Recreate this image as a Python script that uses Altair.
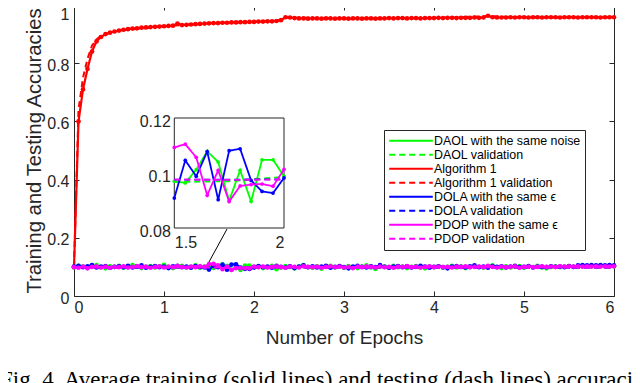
import altair as alt
import pandas as pd

# ---------------- data ----------------
series_names = [
    "DAOL with the same noise", "DAOL validation",
    "Algorithm 1", "Algorithm 1 validation",
    "DOLA with the same ϵ", "DOLA validation",
    "PDOP with the same ϵ", "PDOP validation",
]
series_colors = ["#00FF00", "#00FF00", "#FF0000", "#FF0000",
                 "#0000FF", "#0000FF", "#FF00FF", "#FF00FF"]
series_dash = [[1, 0], [6, 4], [1, 0], [6, 4], [1, 0], [6, 4], [1, 0], [6, 4]]

epochs = [round(i * 0.05, 2) for i in range(121)]

algorithm1 = [
    0.100, 0.600, 0.710, 0.780, 0.840, 0.875, 0.890, 0.900, 0.905, 0.909,
    0.912, 0.915, 0.917, 0.919, 0.920, 0.922, 0.923, 0.924, 0.925, 0.926,
    0.927, 0.928, 0.929, 0.936, 0.931, 0.932, 0.933, 0.934, 0.935, 0.936,
    0.937, 0.938, 0.938, 0.939, 0.939, 0.940, 0.940, 0.941, 0.941, 0.942,
    0.942, 0.943, 0.943, 0.944, 0.944, 0.945, 0.948, 0.958, 0.957, 0.955,
    0.954, 0.954, 0.953, 0.954, 0.954, 0.953, 0.954, 0.954, 0.953, 0.954,
    0.954, 0.953, 0.954, 0.954, 0.953, 0.954, 0.954, 0.953, 0.954, 0.954,
    0.955, 0.954, 0.955, 0.955, 0.954, 0.955, 0.955, 0.954, 0.955, 0.955,
    0.955, 0.956, 0.955, 0.956, 0.956, 0.955, 0.956, 0.956, 0.956, 0.957,
    0.956, 0.957, 0.963, 0.958, 0.957, 0.957, 0.957, 0.958, 0.957, 0.958,
    0.958, 0.957, 0.958, 0.958, 0.957, 0.958, 0.958, 0.958, 0.957, 0.958,
    0.958, 0.958, 0.957, 0.958, 0.958, 0.958, 0.958, 0.957, 0.958, 0.958, 0.958,
]

alg1_val_x = [0, 0.05, 0.1, 0.15, 0.2, 0.25, 0.3, 0.4, 0.5, 1.0, 1.5, 2.0,
              2.25, 2.35, 3.0, 4.0, 4.6, 5.0, 6.0]
alg1_val_y = [0.100, 0.640, 0.750, 0.815, 0.860, 0.882, 0.895, 0.905, 0.912,
              0.927, 0.937, 0.942, 0.945, 0.957, 0.954, 0.955, 0.962, 0.957, 0.958]

daol = [
    0.098, 0.104, 0.101, 0.097, 0.103, 0.106, 0.099, 0.095, 0.102, 0.100,
    0.104, 0.097, 0.099, 0.106, 0.101, 0.096, 0.100, 0.103, 0.098, 0.102,
    0.107, 0.099, 0.096, 0.101, 0.104, 0.098, 0.100, 0.105, 0.097, 0.101,
    0.0970, 0.0964, 0.1012, 0.1079, 0.1040, 0.0899, 0.1010, 0.0897, 0.1048, 0.1048, 0.0988,
    0.102, 0.096, 0.099, 0.104, 0.092, 0.098, 0.103, 0.100, 0.095, 0.101,
    0.106, 0.099, 0.097, 0.102, 0.094, 0.100, 0.104, 0.098, 0.101, 0.097,
    0.103, 0.099, 0.096, 0.101, 0.105, 0.098, 0.093, 0.100, 0.102, 0.097,
    0.104, 0.099, 0.101, 0.096, 0.100, 0.103, 0.098, 0.095, 0.101, 0.099,
    0.102, 0.097, 0.100, 0.104, 0.098, 0.101, 0.096, 0.099, 0.103, 0.100,
    0.097, 0.101, 0.105, 0.099, 0.096, 0.102, 0.098, 0.100, 0.103, 0.097,
    0.101, 0.099, 0.104, 0.098, 0.095, 0.100, 0.102, 0.099, 0.101, 0.103,
    0.100, 0.102, 0.101, 0.103, 0.102, 0.101, 0.103, 0.102, 0.101, 0.102,
]

dola = [
    0.101, 0.104, 0.099, 0.102, 0.106, 0.098, 0.101, 0.103, 0.097, 0.100,
    0.102, 0.099, 0.104, 0.098, 0.101, 0.105, 0.097, 0.100, 0.103, 0.099,
    0.101, 0.096, 0.102, 0.104, 0.099, 0.101, 0.097, 0.103, 0.100, 0.098,
    0.0909, 0.1046, 0.0988, 0.1078, 0.0903, 0.1081, 0.1088, 0.0973, 0.0933, 0.0927, 0.0982,
    0.103, 0.099, 0.101, 0.097, 0.104, 0.100, 0.098, 0.102, 0.096, 0.101,
    0.105, 0.099, 0.102, 0.098, 0.101, 0.104, 0.097, 0.100, 0.103, 0.099,
    0.095, 0.101, 0.104, 0.100, 0.098, 0.102, 0.099, 0.106, 0.100, 0.097,
    0.101, 0.103, 0.099, 0.102, 0.098, 0.100, 0.104, 0.101, 0.097, 0.100,
    0.102, 0.099, 0.095, 0.101, 0.103, 0.100, 0.098, 0.102, 0.105, 0.099,
    0.101, 0.097, 0.103, 0.100, 0.102, 0.098, 0.101, 0.104, 0.099, 0.100,
    0.103, 0.098, 0.101, 0.100, 0.099, 0.102, 0.100, 0.101, 0.099, 0.103,
    0.100, 0.105, 0.106, 0.105, 0.106, 0.105, 0.106, 0.105, 0.106, 0.105,
]

pdop = [
    0.099, 0.097, 0.101, 0.095, 0.100, 0.102, 0.098, 0.101, 0.097, 0.100,
    0.099, 0.102, 0.098, 0.100, 0.103, 0.099, 0.101, 0.097, 0.100, 0.102,
    0.098, 0.101, 0.099, 0.103, 0.100, 0.098, 0.101, 0.099, 0.102, 0.100,
    0.1093, 0.1105, 0.1057, 0.0919, 0.1010, 0.0896, 0.0953, 0.0958, 0.0960, 0.0952, 0.1013,
    0.099, 0.101, 0.098, 0.100, 0.102, 0.099, 0.097, 0.101, 0.100, 0.098,
    0.102, 0.100, 0.099, 0.101, 0.097, 0.100, 0.102, 0.099, 0.101, 0.098,
    0.100, 0.096, 0.101, 0.099, 0.102, 0.100, 0.098, 0.101, 0.099, 0.100,
    0.097, 0.101, 0.100, 0.103, 0.099, 0.101, 0.098, 0.100, 0.102, 0.099,
    0.101, 0.099, 0.100, 0.098, 0.101, 0.100, 0.102, 0.099, 0.100, 0.101,
    0.099, 0.104, 0.100, 0.098, 0.101, 0.099, 0.100, 0.102, 0.097, 0.100,
    0.101, 0.099, 0.100, 0.102, 0.100, 0.101, 0.100, 0.102, 0.101, 0.102,
    0.101, 0.102, 0.101, 0.102, 0.101, 0.102, 0.101, 0.102, 0.101, 0.102,
]

val_x = [0, 0.25, 0.5, 0.75, 1.0, 1.25, 1.5, 1.75, 2.0, 2.25, 2.5, 2.75, 3.0,
         3.25, 3.5, 3.75, 4.0, 4.25, 4.5, 4.75, 5.0, 5.25, 5.5, 5.75, 6.0]
daol_val = [0.0968, 0.0967, 0.0968, 0.0967, 0.0967, 0.0968, 0.0967, 0.0970, 0.0986,
            0.0975, 0.0970, 0.0968, 0.0969, 0.0968, 0.0969, 0.0968, 0.0969, 0.0968,
            0.0969, 0.0968, 0.0969, 0.0968, 0.0969, 0.0968, 0.0969]
dola_val = [0.0976, 0.0976, 0.0977, 0.0976, 0.0976, 0.0977, 0.0976, 0.0976, 0.0977,
            0.0976, 0.0976, 0.0977, 0.0976, 0.0976, 0.0977, 0.0976, 0.0976, 0.0977,
            0.0976, 0.0976, 0.0977, 0.0976, 0.0976, 0.0977, 0.0976]
pdop_val = [0.0975, 0.0976, 0.0975, 0.0976, 0.0975, 0.0976, 0.0976, 0.0975, 0.0976,
            0.0975, 0.0976, 0.0975, 0.0976, 0.0975, 0.0976, 0.0975, 0.0976, 0.0975,
            0.0976, 0.0975, 0.0976, 0.0975, 0.0976, 0.0975, 0.0976]

x_ticks = [0, 1, 2, 3, 4, 5, 6]
y_ticks = [0, 0.2, 0.4, 0.6, 0.8, 1]
inset_x_ticks = [1.5, 2]
inset_y_ticks = [0.08, 0.1, 0.12]
inset_x_domain = [1.5, 2]
inset_y_domain = [0.08, 0.12]

arrow_x = [1.50, 1.70]
arrow_y = [0.117, 0.230]

caption = "Fig. 4.   Average training (solid lines) and testing (dash lines) accuracies"

# ---------------- tables ----------------
rows = []
def add(name, xs, ys):
    for a, b in zip(xs, ys):
        rows.append({"series": name, "x": a, "y": b})

add(series_names[0], epochs, daol)
add(series_names[1], val_x, daol_val)
add(series_names[2], epochs, algorithm1)
add(series_names[3], alg1_val_x, alg1_val_y)
add(series_names[4], epochs, dola)
add(series_names[5], val_x, dola_val)
add(series_names[6], epochs, pdop)
add(series_names[7], val_x, pdop_val)
df = pd.DataFrame(rows)
df_inset = df[(df["x"] >= 1.5) & (df["x"] <= 2.0) & (df["series"] != series_names[2])
              & (df["series"] != series_names[3])]

W, H = 540, 291
FONT = "Liberation Sans"
AX = "#262626"

# inset box, in pixels of the plot area
IX0, IX1, IY0, IY1 = 100.3, 210, 223, 113

x_scale = alt.Scale(domain=[0, 6], nice=False, zero=False)
y_scale = alt.Scale(domain=[0, 1], nice=False, zero=False)
ix_scale = alt.Scale(domain=inset_x_domain, range=[IX0, IX1], nice=False, zero=False)
iy_scale = alt.Scale(domain=inset_y_domain, range=[IY0, IY1], nice=False, zero=False)

legend = alt.Legend(
    title=None, orient="none", legendX=310, legendY=125,
    symbolType="stroke", symbolSize=1900, symbolStrokeWidth=2,
    clipHeight=13.4, labelFontSize=12.4, labelFont=FONT, labelColor="black",
    fillColor="white", strokeColor=AX, padding=4, rowPadding=0, labelOffset=0,
    labelLimit=300,
)
color_enc = alt.Color("series:N", scale=alt.Scale(domain=series_names, range=series_colors),
                      legend=legend)
dash_enc = alt.StrokeDash("series:N", scale=alt.Scale(domain=series_names, range=series_dash),
                          legend=legend)

main_x_axis = alt.Axis(values=x_ticks, format="~g", tickSize=0, domain=False, grid=False,
                       labelFont=FONT, labelFontSize=16, labelColor=AX, labelPadding=3,
                       title="Number of Epochs", titleFont=FONT, titleFontSize=19,
                       titleFontWeight="normal", titleColor=AX, titlePadding=13)
main_y_axis = alt.Axis(values=y_ticks, format="~g", tickSize=0, domain=False, grid=False,
                       labelFont=FONT, labelFontSize=16, labelColor=AX, labelPadding=5,
                       labelOffset={"condition": {"test": "datum.value == 1", "value": 9},
                                    "value": 2},
                       title="Training and Testing Accuracies", titleFont=FONT,
                       titleFontSize=20.3, titleFontWeight="normal", titleColor=AX,
                       titlePadding=2)

line_layers = []
for i, name in enumerate(series_names):
    solid = (i % 2 == 0)
    mk = alt.Chart(df).transform_filter(alt.datum.series == name)
    if solid:
        mk = mk.mark_line(strokeWidth=2.2, point=alt.OverlayMarkDef(size=22, filled=True))
    else:
        mk = mk.mark_line(strokeWidth=2)
    line_layers.append(mk.encode(
        x=alt.X("x:Q", scale=x_scale, axis=main_x_axis),
        y=alt.Y("y:Q", scale=y_scale, axis=main_y_axis),
        color=color_enc, strokeDash=dash_enc,
    ))

arrow = alt.Chart(pd.DataFrame({"x": arrow_x, "y": arrow_y})).mark_line(
    color="black", strokeWidth=1).encode(
    x=alt.X("x:Q", scale=x_scale, axis=main_x_axis),
    y=alt.Y("y:Q", scale=y_scale, axis=main_y_axis))

cap = alt.Chart(pd.DataFrame({"t": [caption]})).mark_text(
    align="left", baseline="alphabetic", font="Liberation Serif", fontSize=23,
    color="black").encode(x=alt.value(-74), y=alt.value(382), text="t:N")

main = alt.layer(*line_layers, arrow, cap)

# inward tick marks on all four sides
tick_df = pd.DataFrame({"x": [0, 6], "y": [0, 1]})
def tick_axis(orient, offset, vals):
    return alt.Axis(orient=orient, offset=offset, values=vals, labels=False, domain=False,
                    grid=False, tickSize=5, tickColor=AX, title=None)

ticksA = alt.Chart(tick_df).mark_point(opacity=0).encode(
    x=alt.X("x:Q", scale=x_scale, axis=tick_axis("top", -H, x_ticks)),
    y=alt.Y("y:Q", scale=y_scale, axis=tick_axis("right", -W, y_ticks)))
ticksB = alt.Chart(tick_df).mark_point(opacity=0).encode(
    x=alt.X("x:Q", scale=x_scale, axis=tick_axis("bottom", -H, x_ticks)),
    y=alt.Y("y:Q", scale=y_scale, axis=tick_axis("left", -W, y_ticks)))

# inset
inset_x_axis = alt.Axis(orient="bottom", offset=-(H - IY0), values=inset_x_ticks, format="~g",
                        ticks=False, domain=False, grid=False, labelFont=FONT,
                        labelFontSize=16, labelColor=AX, labelPadding=6, title=None)
inset_y_axis = alt.Axis(orient="left", offset=-IX0, values=inset_y_ticks, format="~g",
                        ticks=False, domain=False, grid=False, labelFont=FONT,
                        labelFontSize=16, labelColor=AX, labelPadding=4, labelOffset=3,
                        title=None)
frame_df = pd.DataFrame({"x": [inset_x_domain[0]], "x2": [inset_x_domain[1]],
                         "y": [inset_y_domain[0]], "y2": [inset_y_domain[1]]})
frame = alt.Chart(frame_df).mark_rect(fill="white", stroke=AX, strokeWidth=1).encode(
    x=alt.X("x:Q", scale=ix_scale, axis=inset_x_axis), x2="x2:Q",
    y=alt.Y("y:Q", scale=iy_scale, axis=inset_y_axis), y2="y2:Q")
inset_layers = [frame]
for i, name in enumerate(series_names):
    if name in (series_names[2], series_names[3]):
        continue
    solid = (i % 2 == 0)
    mk = alt.Chart(df_inset).transform_filter(alt.datum.series == name)
    if solid:
        mk = mk.mark_line(strokeWidth=1.8, point=alt.OverlayMarkDef(size=14, filled=True))
    else:
        mk = mk.mark_line(strokeWidth=1.8)
    inset_layers.append(mk.encode(
        x=alt.X("x:Q", scale=ix_scale, axis=inset_x_axis),
        y=alt.Y("y:Q", scale=iy_scale, axis=inset_y_axis),
        color=color_enc, strokeDash=dash_enc))
inset = alt.layer(*inset_layers)

chart = alt.layer(main, ticksA, ticksB, inset).resolve_scale(
    x="independent", y="independent").properties(
    width=W, height=H,
    autosize=alt.AutoSizeParams(type="none"),
    padding={"left": 66, "top": -3, "right": 18, "bottom": 87},
    background="white",
).configure_view(stroke=AX, strokeWidth=1)

chart.save("out.html", embed_options={"renderer": "svg", "actions": False})
